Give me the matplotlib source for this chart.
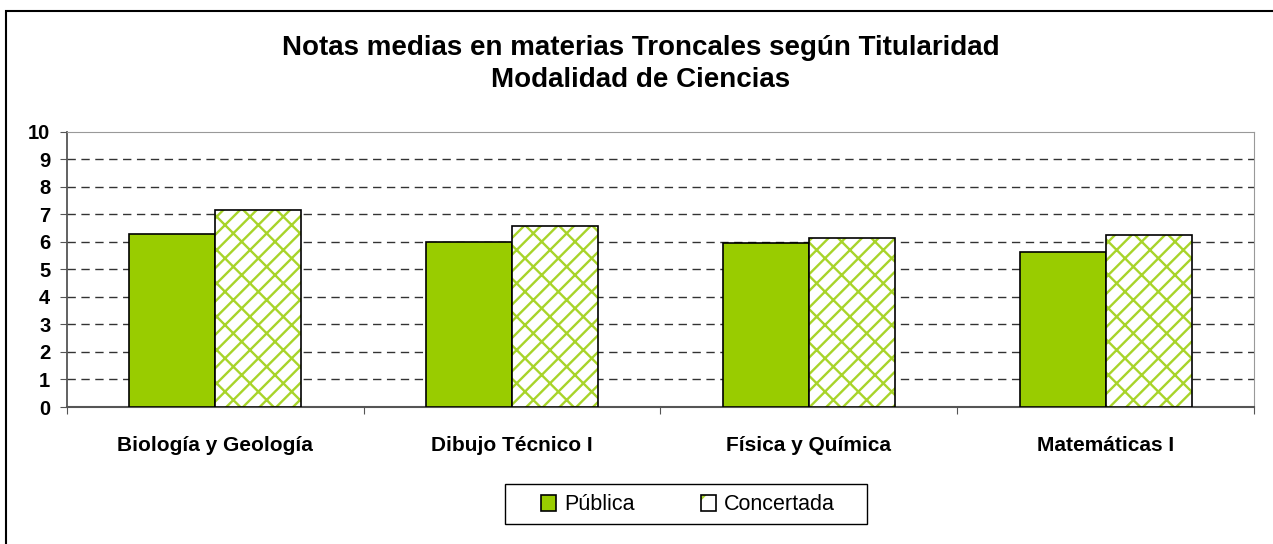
import matplotlib
matplotlib.use('Agg')
import matplotlib.pyplot as plt
import numpy as np
from matplotlib.patches import Patch, Rectangle

plt.rcParams.update({'font.family': ['Liberation Sans', 'DejaVu Sans'],
                     'hatch.linewidth': 1.7})

materias = ['Biología y Geología', 'Dibujo Técnico I', 'Física y Química', 'Matemáticas I']
publica = [6.29, 5.98, 5.95, 5.62]
concertada = [7.14, 6.56, 6.14, 6.25]
series = ['Pública', 'Concertada']

verde = '#99cc00'
verde_trama = '#a8d42a'

fig = plt.figure(figsize=(12.73, 5.44), dpi=100)
ax = fig.add_axes([0.0526, 0.2518, 0.9325, 0.5064])

x = np.arange(len(materias))
w = 0.29

# Pública: solid green
ax.bar(x - w / 2, publica, w, color=verde, edgecolor='black', linewidth=1.2, zorder=3)
# Concertada: green brick-like hatch on white, black outline on top
ax.bar(x + w / 2, concertada, w, facecolor='white', edgecolor=verde_trama,
       hatch='//\\', linewidth=0, zorder=3)
ax.bar(x + w / 2, concertada, w, fill=False, edgecolor='black', linewidth=1.2, zorder=4)

ax.set_xlim(-0.5, len(materias) - 0.5)
ax.set_ylim(0, 10)
ax.set_yticks(range(0, 11))
for lbl in ax.get_yticklabels():
    lbl.set_fontweight('bold')
ax.tick_params(axis='y', length=5, pad=7, labelsize=14.5, color='#555555')

# boundaries carry the tick marks, centres carry the names
ax.set_xticks(np.arange(-0.5, len(materias)), labels=[''] * (len(materias) + 1))
ax.set_xticks(x, labels=materias, minor=True)
ax.tick_params(axis='x', which='major', length=5, color='#555555', direction='out')
ax.tick_params(axis='x', which='minor', length=0, pad=21, labelsize=15)
for lbl in ax.get_xticklabels(minor=True):
    lbl.set_fontweight('bold')

for yv in range(1, 10):
    ax.axhline(yv, color='#333333', linestyle=(0, (6, 4)), linewidth=1.0, zorder=1)

ax.spines['left'].set_color('#555555')
ax.spines['bottom'].set_color('#555555')
ax.spines['left'].set_linewidth(1.3)
ax.spines['bottom'].set_linewidth(1.5)
ax.spines['top'].set_color('#999999')
ax.spines['right'].set_color('#999999')

fig.text(0.5035, 1 - 64 / 544,
         'Notas medias en materias Troncales según Titularidad\nModalidad de Ciencias',
         ha='center', va='center', fontsize=20, fontweight='bold', linespacing=1.33)

h_pub = Patch(facecolor=verde, edgecolor='black', linewidth=1.2)
h_con = (Patch(facecolor='white', edgecolor=verde_trama, hatch='/', linewidth=0),
         Patch(fill=False, edgecolor='black', linewidth=1.2))
fig.legend([h_pub, h_con], series, loc='center', bbox_to_anchor=(688 / 1273, 1 - 505 / 544),
           ncol=2, fontsize=15.5, frameon=False, handlelength=0.7, handleheight=0.7,
           handletextpad=0.35, columnspacing=3.1, borderpad=0, borderaxespad=0)
# legend box
fig.patches.append(Rectangle((505 / 1273, 1 - 524 / 544), 362 / 1273, 40 / 544,
                             transform=fig.transFigure, fill=False, edgecolor='black',
                             linewidth=1.0))

# outer chart frame
fig.patches.append(Rectangle((6 / 1273, -0.1), 1.2, 1 - 11 / 544 + 0.1, transform=fig.transFigure,
                             fill=False, edgecolor='black', linewidth=1.5))

fig.savefig('out.png', dpi=100)
